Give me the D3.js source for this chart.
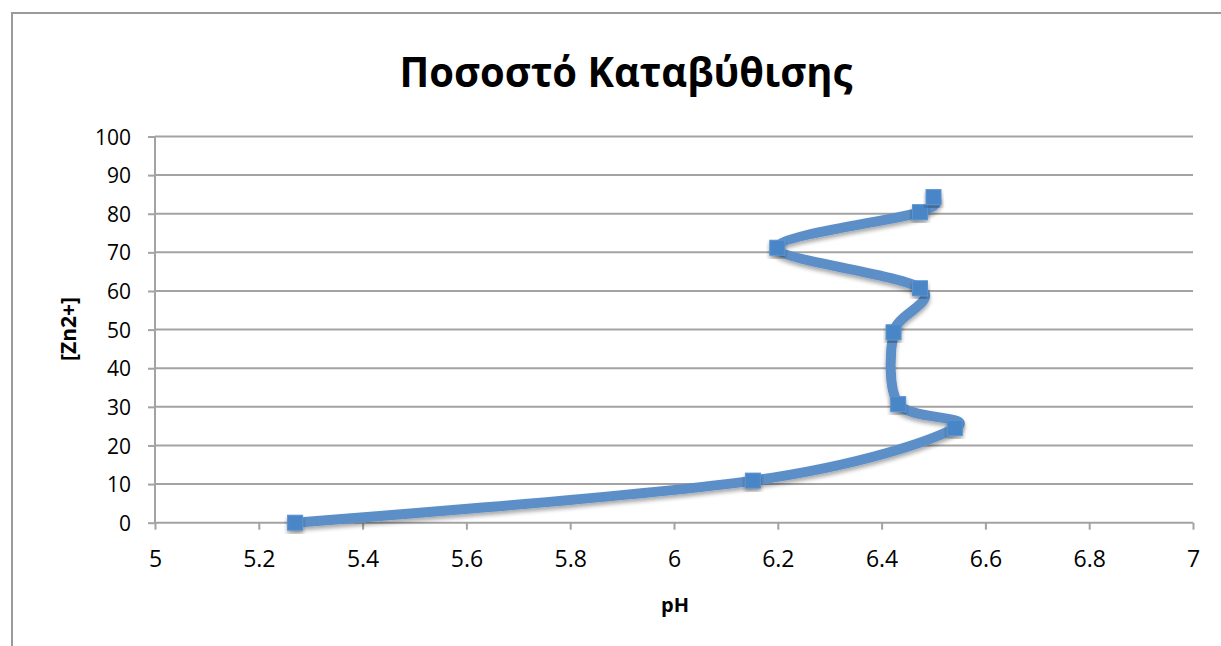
<!DOCTYPE html>
<html>
<head>
<meta charset="utf-8">
<script src="https://cdn.jsdelivr.net/npm/d3@7"></script>
<style>
  html, body { margin: 0; padding: 0; background: #fff; }
  svg { display: block; }
</style>
</head>
<body>
<svg id="chart" width="1221" height="646"></svg>
<script>
// Precipitation data: pH against [Zn2+]
const phValues = [5.27, 6.152, 6.541, 6.432, 6.423, 6.474, 6.199, 6.474, 6.500];
const znValues = [0, 10.9, 24.5, 30.7, 49.3, 60.7, 71.2, 80.4, 84.3];
const xTicks = [5, 5.2, 5.4, 5.6, 5.8, 6, 6.2, 6.4, 6.6, 6.8, 7];
const yTicks = [0, 10, 20, 30, 40, 50, 60, 70, 80, 90, 100];
const titleText = "Ποσοστό Καταβύθισης";
const xTitle = "pH";
const yTitle = "[Zn2+]";

const points = phValues.map((p, i) => ({ x: p, y: znValues[i] }));

const svg = d3.select("#chart");
const font = "'Open Sans', 'Liberation Sans', sans-serif";
const gridColor = "#a3a3a3";

const plot = { left: 155, right: 1193, top: 136.5, bottom: 522.7 };

const x = d3.scaleLinear().domain([5, 7]).range([plot.left, plot.right]);
const y = d3.scaleLinear().domain([0, 100]).range([plot.bottom, plot.top]);

// chart frame
svg.append("path")
  .attr("d", "M12,646 L12,13 L1221,13")
  .attr("fill", "none")
  .attr("stroke", "#9a9a9a")
  .attr("stroke-width", 2);

// title
svg.append("text")
  .attr("x", 626).attr("y", 87)
  .attr("text-anchor", "middle")
  .attr("font-family", font)
  .attr("font-weight", "bold")
  .attr("font-size", 42)
  .attr("textLength", 453)
  .attr("lengthAdjust", "spacingAndGlyphs")
  .attr("fill", "#000")
  .text(titleText);

// horizontal gridlines
svg.append("g")
  .selectAll("line")
  .data(yTicks.filter(d => d !== 0))
  .join("line")
  .attr("x1", plot.left).attr("x2", plot.right)
  .attr("y1", d => y(d)).attr("y2", d => y(d))
  .attr("stroke", gridColor).attr("stroke-width", 2);

// y axis
const yAxis = svg.append("g")
  .attr("transform", `translate(${plot.left},0)`)
  .call(d3.axisLeft(y).tickValues(yTicks).tickSize(7).tickPadding(17).tickFormat(d3.format("d")));
yAxis.select(".domain").attr("stroke", gridColor).attr("stroke-width", 2)
  .attr("d", `M0,${plot.top}V${plot.bottom}`);
yAxis.selectAll(".tick line").attr("stroke", gridColor).attr("stroke-width", 2);
yAxis.selectAll(".tick text")
  .attr("font-family", font).attr("font-size", 21).attr("fill", "#000")
  .attr("dy", "0.36em");

// x axis
const xAxis = svg.append("g")
  .attr("transform", `translate(0,${plot.bottom})`)
  .call(d3.axisBottom(x).tickValues(xTicks).tickSize(7).tickPadding(21).tickFormat(d => d3.format("~g")(d)));
xAxis.select(".domain").attr("stroke", gridColor).attr("stroke-width", 2)
  .attr("d", `M${plot.left},0H${plot.right}`);
xAxis.selectAll(".tick line").attr("stroke", gridColor).attr("stroke-width", 2);
xAxis.selectAll(".tick text")
  .attr("font-family", font).attr("font-size", 23).attr("fill", "#000");

// axis titles
svg.append("text")
  .attr("x", 675).attr("y", 612)
  .attr("text-anchor", "middle")
  .attr("font-family", font).attr("font-weight", "bold").attr("font-size", 20)
  .attr("fill", "#000")
  .text(xTitle);

svg.append("text")
  .attr("transform", "translate(76,329) rotate(-90)")
  .attr("text-anchor", "middle")
  .attr("font-family", font).attr("font-weight", "bold").attr("font-size", 21)
  .attr("fill", "#000")
  .text(yTitle);

// soft shadow for the series
const defs = svg.append("defs");
const shadow = defs.append("filter").attr("id", "shadow")
  .attr("x", "-20%").attr("y", "-20%").attr("width", "140%").attr("height", "140%");
shadow.append("feGaussianBlur").attr("in", "SourceAlpha").attr("stdDeviation", 2).attr("result", "blur");
shadow.append("feOffset").attr("in", "blur").attr("dy", 3).attr("result", "off");
shadow.append("feComponentTransfer").attr("in", "off").attr("result", "fade")
  .append("feFuncA").attr("type", "linear").attr("slope", 0.35);
const merge = shadow.append("feMerge");
merge.append("feMergeNode").attr("in", "fade");
merge.append("feMergeNode").attr("in", "SourceGraphic");

// smoothed series line
const line = d3.line()
  .x(d => x(d.x)).y(d => y(d.y))
  .curve(d3.curveCardinal.tension(0));

svg.append("path")
  .datum(points)
  .attr("d", line)
  .attr("fill", "none")
  .attr("stroke", "#5b8fc8")
  .attr("stroke-width", 10)
  .attr("stroke-linecap", "round")
  .attr("stroke-linejoin", "round")
  .attr("filter", "url(#shadow)");

// square markers
svg.append("g")
  .selectAll("rect")
  .data(points)
  .join("rect")
  .attr("x", d => x(d.x) - 7.5)
  .attr("y", d => y(d.y) - 7.5)
  .attr("width", 15).attr("height", 15)
  .attr("fill", "#4a86c8")
  .attr("stroke", "#5b93cf")
  .attr("stroke-width", 1)
  .attr("filter", "url(#shadow)");
</script>
</body>
</html>
